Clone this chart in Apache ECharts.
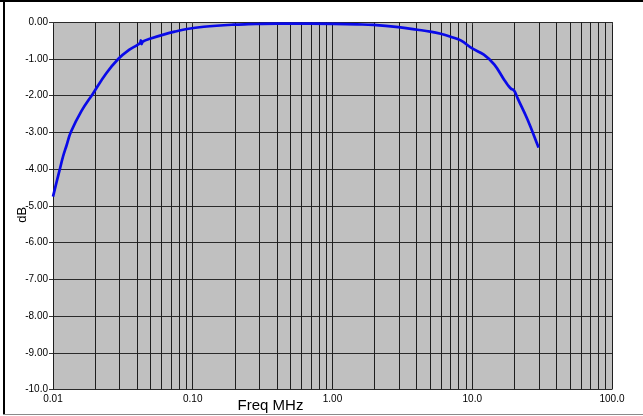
<!DOCTYPE html>
<html>
<head>
<meta charset="utf-8">
<script src="https://cdn.jsdelivr.net/npm/echarts@6/dist/echarts.min.js"></script>
<style>
html,body{margin:0;padding:0;background:#fff;}
#c{width:643px;height:416px;}
</style>
</head>
<body>
<div id="c"></div>
<script>
// Frequency (MHz) and response (dB)
const freqMHz = [0.0100,0.0106,0.0112,0.0118,0.0125,0.0134,0.0160,0.0193,0.0240,0.0294,0.0350,0.0400,0.0420,0.0425,0.0430,0.0440,0.0500,0.0635,0.0750,0.0908,0.1200,0.1950,0.2500,0.4000,0.7000,1.0200,1.5000,1.9600,2.9600,4.0500,5.0000,5.9500,7.0000,8.2700,10.000,12.100,14.400,16.900,18.000,19.000,19.600,20.200,21.100,24.900,29.300,29.800];
const levelDB = [-4.75,-4.36,-4.00,-3.66,-3.36,-3.00,-2.42,-1.95,-1.40,-1.00,-0.76,-0.63,-0.57,-0.50,-0.60,-0.53,-0.45,-0.33,-0.26,-0.19,-0.13,-0.073,-0.06,-0.046,-0.045,-0.05,-0.065,-0.08,-0.14,-0.21,-0.26,-0.32,-0.40,-0.50,-0.72,-0.89,-1.16,-1.57,-1.72,-1.82,-1.84,-1.90,-2.07,-2.66,-3.34,-3.42];
const decades = [0.01, 0.1, 1, 10, 100];
const xTickLabels = ['0.01', '0.10', '1.00', '10.0', '100.0'];
const yTicks = [0,-1,-2,-3,-4,-5,-6,-7,-8,-9,-10];
const yTickLabels = ['0.00','-1.00','-2.00','-3.00','-4.00','-5.00','-6.00','-7.00','-8.00','-9.00','-10.0'];

const curve = freqMHz.map((f, i) => [f, levelDB[i]]);
const minorLines = [];
for (let d = 0; d < decades.length - 1; d++) {
  for (let k = 2; k <= 9; k++) minorLines.push({ xAxis: +(decades[d] * k).toPrecision(3) });
}

const chart = echarts.init(document.getElementById('c'), null, { renderer: 'canvas' });
const gridColor = '#1e1e1e';
chart.setOption({
  animation: false,
  backgroundColor: '#ffffff',
  textStyle: { fontFamily: 'Liberation Sans, Arial, sans-serif' },
  grid: { left: 53, top: 22, width: 559, height: 367.5, show: true, backgroundColor: '#c0c0c0', borderWidth: 0, containLabel: false, outerBoundsMode: 'none' },
  xAxis: {
    type: 'log', logBase: 10, min: 0.01, max: 100,
    name: 'Freq MHz', nameLocation: 'middle', nameGap: 9, nameMoveOverlap: false,
    nameTextStyle: { fontSize: 15, color: '#000', padding: [0, 0, 0, -124] },
    axisLine: { show: false },
    axisTick: { show: true, length: 3, lineStyle: { color: '#333' } },
    axisLabel: { fontSize: 10, color: '#000', margin: 5,
      formatter: v => { const i = decades.findIndex(d => Math.abs(d - v) / d < 1e-6); return i >= 0 ? xTickLabels[i] : ''; } },
    splitLine: { show: true, lineStyle: { color: gridColor, width: 1 } }
  },
  yAxis: {
    type: 'value', min: -10, max: 0, interval: 1,
    name: 'dB', nameLocation: 'middle', nameGap: 24, nameRotate: 90, nameMoveOverlap: false,
    nameTextStyle: { fontSize: 13, color: '#000', padding: [0, 18, 0, 0] },
    axisLine: { show: false },
    axisTick: { show: true, length: 4, lineStyle: { color: '#333' } },
    axisLabel: { fontSize: 10, color: '#000', margin: 5,
      formatter: v => { const i = yTicks.indexOf(Math.round(v)); return i >= 0 ? yTickLabels[i] : ''; } },
    splitLine: { show: true, lineStyle: { color: '#2a2a2a', width: 1 } }
  },
  series: [
    {
      type: 'line', data: [], z: 1, silent: true,
      markLine: {
        silent: true, symbol: ['none', 'none'], animation: false,
        label: { show: false },
        lineStyle: { color: gridColor, width: 1, type: 'solid' },
        emphasis: { disabled: true },
        data: minorLines
      }
    },
    {
      type: 'line', data: curve, z: 5, showSymbol: false, smooth: 0.4,
      lineStyle: { color: '#0a0ae8', width: 2.7 }
    }
  ],
  graphic: [
    { type: 'rect', shape: { x: 0, y: 0, width: 643, height: 2 }, style: { fill: '#000' } },
    { type: 'rect', shape: { x: 3, y: 0, width: 2, height: 415 }, style: { fill: '#000' } },
    { type: 'rect', shape: { x: 3, y: 414, width: 640, height: 1 }, style: { fill: '#8a8a8a' } }
  ]
});
</script>
</body>
</html>
